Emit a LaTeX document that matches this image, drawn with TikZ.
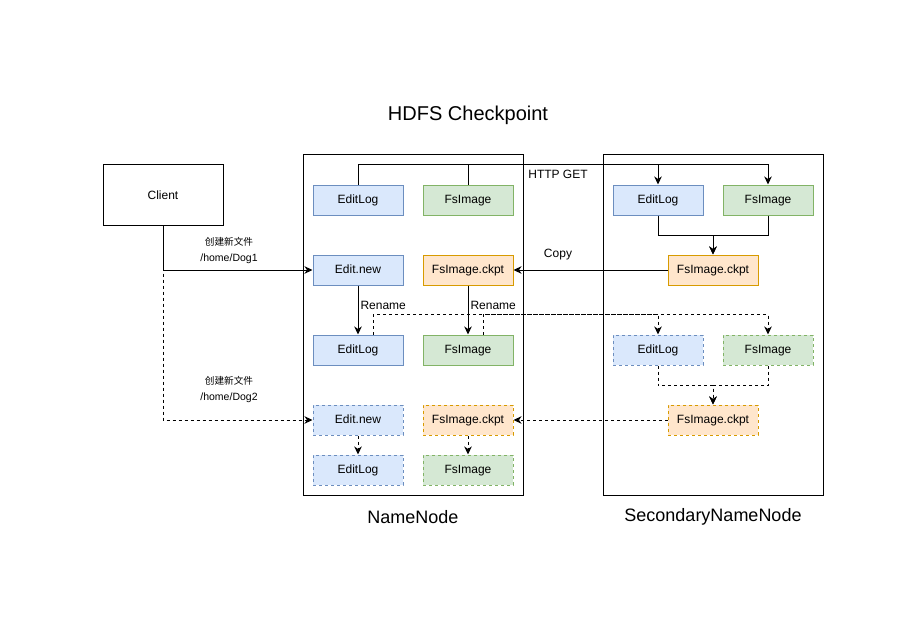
\documentclass[tikz,border=0pt]{standalone}
\usepackage{fontspec}
\setmainfont{Liberation Sans}
\newfontfamily\cjk[Scale=0.92]{Noto Sans CJK SC}
\usepackage{xcolor}
\usetikzlibrary{arrows.meta}
\definecolor{logfill}{HTML}{DAE8FC}
\definecolor{logline}{HTML}{6C8EBF}
\definecolor{imgfill}{HTML}{D5E8D4}
\definecolor{imgline}{HTML}{82B366}
\definecolor{ckptfill}{HTML}{FFE6CC}
\definecolor{ckptline}{HTML}{D79B00}

\begin{document}
\begin{tikzpicture}[x=1pt,y=-1pt,line width=1pt,
      >={Stealth[length=8pt,width=7.5pt,inset=2.5pt]},
      every node/.style={font=\fontsize{12}{14}\selectfont},
      filebox/.style={draw,minimum width=90pt,minimum height=30pt,inner sep=0pt,
        text height=8.8pt,text depth=2.6pt},
      logbox/.style={filebox,fill=logfill,draw=logline},
      imgbox/.style={filebox,fill=imgfill,draw=imgline},
      ckptbox/.style={filebox,fill=ckptfill,draw=ckptline},
      later/.style={dash pattern=on 3pt off 3pt},
      bigtext/.style={font=\fontsize{18}{22}\selectfont},
      clientlbl/.style={align=center,font=\fontsize{10.5}{16}\selectfont}]

      \useasboundingbox (0,0) rectangle (921,623);

      \node[font=\fontsize{20}{24}\selectfont] (title) at (468,115) {HDFS Checkpoint};

      % hosts
      \node[draw,minimum width=120pt,minimum height=60pt] (client) at (163,195) {Client};
      \node[draw,minimum width=220pt,minimum height=340pt] (nn) at (413,325) {};
      \node[draw,minimum width=220pt,minimum height=340pt] (snn) at (713,325) {};
      \node[bigtext] (nnname) at (413,517) {NameNode};
      \node[bigtext] (snnname) at (713,517) {SecondaryNameNode};

      % NameNode files
      \node[logbox] (nnlog) at (358,200) {EditLog};
      \node[imgbox] (nnimg) at (468,200) {FsImage};
      \node[logbox] (nnnew) at (358,270) {Edit.new};
      \node[ckptbox] (nnckpt) at (468,270) {FsImage.ckpt};
      \node[logbox] (nnlog2) at (358,350) {EditLog};
      \node[imgbox] (nnimg2) at (468,350) {FsImage};
      \node[logbox,later] (nnnew2) at (358,420) {Edit.new};
      \node[ckptbox,later] (nnckpt2) at (468,420) {FsImage.ckpt};
      \node[logbox,later] (nnlog3) at (358,470) {EditLog};
      \node[imgbox,later] (nnimg3) at (468,470) {FsImage};

      % SecondaryNameNode files
      \node[logbox] (snnlog) at (658,200) {EditLog};
      \node[imgbox] (snnimg) at (768,200) {FsImage};
      \node[ckptbox] (snnckpt) at (713,270) {FsImage.ckpt};
      \node[logbox,later] (snnlog2) at (658,350) {EditLog};
      \node[imgbox,later] (snnimg2) at (768,350) {FsImage};
      \node[ckptbox,later] (snnckpt2) at (713,420) {FsImage.ckpt};

      % first checkpoint
      \draw[->] (nnlog.north) -- ++(0,-20) -| (snnimg.north);
      \draw[->] (nnimg.north) -- ++(0,-20) -| (snnlog.north);
      \node (httpget) at (558,174) {HTTP GET};
      \draw[->] (snnlog.south) -- ++(0,20) -| (snnckpt.north);
      \draw[->] (snnimg.south) -- ++(0,20) -| (snnckpt.north);
      \draw[->] (snnckpt) -- (nnckpt);
      \node (copy) at (558,255) {Copy};
      \draw[->] (nnnew) -- (nnlog2) node[pos=0.4,right,inner sep=2pt] {Rename};
      \draw[->] (nnckpt) -- (nnimg2) node[pos=0.4,right,inner sep=2pt] {Rename};

      % client writes
      \draw[later,->] (client.south) |- (nnnew2.west);
      \draw[->] (client.south) |- (nnnew.west);
      \node[clientlbl] (dog1) at (229,250) {{\cjk 创建新文件}\\/home/Dog1};
      \node[clientlbl] (dog2) at (229,389) {{\cjk 创建新文件}\\/home/Dog2};

      % next checkpoint
      \draw[later,->] ([xshift=15pt]nnlog2.north) -- ++(0,-20) -| (snnlog2.north);
      \draw[later,->] ([xshift=15pt]nnimg2.north) -- ++(0,-20) -| (snnimg2.north);
      \draw[later,->] (snnlog2.south) -- ++(0,20) -| (snnckpt2.north);
      \draw[later,->] (snnimg2.south) -- ++(0,20) -| (snnckpt2.north);
      \draw[later,->] (snnckpt2) -- (nnckpt2);
      \draw[later,->] (nnnew2) -- (nnlog3);
      \draw[later,->] (nnckpt2) -- (nnimg3);
    \end{tikzpicture}
\end{document}
